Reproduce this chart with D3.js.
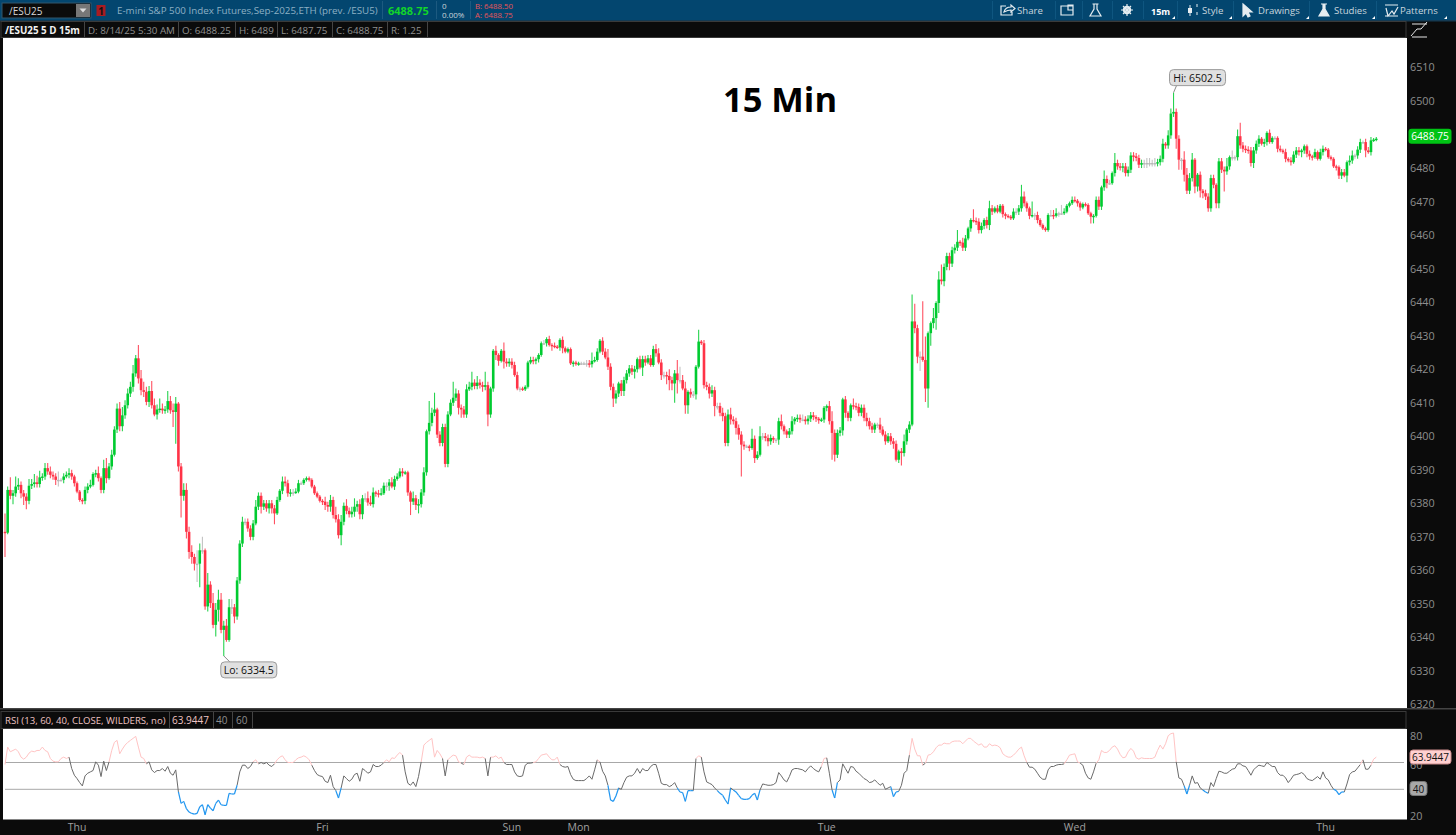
<!DOCTYPE html>
<html><head><meta charset="utf-8">
<script src="https://cdn.jsdelivr.net/npm/d3@7/dist/d3.min.js"></script>
<style>html,body{margin:0;padding:0;background:#0b0b0b;overflow:hidden}svg{display:block;font-family:"Open Sans",sans-serif}</style>
</head><body><svg id="c" width="1456" height="835"></svg>
<script>
const firstOpen = 6371.5;
const closes = [
6371.25,6384,6382.25,6383,6385,6385.5,6383,6382,6380.75,6385.25,
6385.75,6386.25,6385.75,6387.75,6388,6390.5,6389.5,6388.5,6388,6387,
6387,6387,6388,6388.5,6389,6388,6386,6383.5,6381,6380.75,
6384,6385,6385.5,6388.75,6389,6387.5,6384,6390.5,6387.5,6391,
6394.5,6402,6408.25,6403,6406.25,6409.25,6412.75,6414.75,6418.75,6423.25,
6417.25,6413.75,6413.25,6410.25,6413.5,6409.25,6406.5,6408,6408.25,6407.75,
6408,6410.5,6407.75,6407.25,6409.75,6391,6382.25,6384,6371.5,6365.5,
6364,6362,6362,6366,6366,6349.25,6355.75,6350.25,6343.75,6348.25,
6351.25,6342.25,6343.5,6339.25,6349,6349,6346.25,6357,6368,6374.5,
6374.5,6372.5,6370,6374,6379,6382.25,6379,6380,6378.5,6380,
6378.5,6377,6381,6383.75,6386.5,6386,6383,6383.25,6383.25,6383.5,
6386,6386,6387,6387.5,6387,6385,6383,6382,6380.75,6380.5,
6379.5,6379,6381,6376.5,6375.25,6370.5,6374.5,6379.25,6377.75,6376.75,
6377.5,6379,6379.75,6376.75,6381.5,6381.5,6380.25,6379.75,6383.25,6383,
6382.75,6383,6385.25,6385.25,6386.25,6385,6387.25,6388,6389.5,6389,
6389.25,6383.25,6380.5,6381.5,6379.5,6379.75,6383.25,6389.25,6401.5,6404,
6407,6408,6400.5,6398,6402.75,6391.75,6406.5,6410,6411.5,6412.75,
6408.5,6408,6406.5,6414,6414.75,6416,6415,6416,6415.25,6414.75,
6415.25,6406.5,6414.25,6425.5,6424.25,6422.5,6425.5,6422.25,6421.75,6422.25,
6421.25,6418.25,6414.25,6414.25,6414,6414.75,6422,6422.75,6422.5,6423,
6424.25,6427.75,6427.75,6429,6427.25,6427,6426.75,6426.5,6428.75,6426.25,
6425.25,6426,6421.75,6422,6421.5,6421.75,6421.75,6421.75,6421.75,6421.5,
6422.5,6422.75,6425.25,6428.5,6425.25,6423.5,6420.75,6414.75,6411.25,6412.75,
6415.75,6413.5,6416.75,6418.75,6420.25,6419.25,6420,6423,6420.5,6423,
6422,6423.25,6421.25,6426,6424.75,6422,6418.25,6418.25,6418,6416.75,
6415.75,6418.75,6416.75,6416.75,6414.25,6409.25,6413.25,6412.5,6412.5,6420.75,
6428.25,6427.75,6415.25,6414.75,6412.75,6413.75,6409,6409,6407,6406,
6398,6406.5,6405,6404.5,6402.5,6400.5,6397.5,6397,6397,6396.5,
6399.25,6393.5,6394.5,6400,6400,6399.5,6398.5,6399.5,6399,6399,
6404.5,6403,6401.5,6400.5,6401.5,6404.5,6405.25,6405.5,6405,6405,
6404.5,6405.25,6406.25,6405.75,6405.25,6404.75,6405,6408.5,6409,6404.5,
6401,6394.5,6401,6401.75,6411,6407,6405.5,6409.25,6409,6408.75,
6407,6408.5,6405.5,6404.5,6403,6402,6403.5,6403.5,6402,6400.5,
6398.5,6400,6398.5,6397.75,6393,6395.5,6395,6398.5,6402,6403.5,
6434.25,6432.25,6423.75,6423.75,6422.75,6414.25,6430.75,6433.75,6435.25,6439.75,
6446.75,6446.25,6450.5,6453.75,6451.5,6455.5,6456.25,6458,6457.75,6456.25,
6459,6462,6464.5,6464.25,6464,6461.5,6462.75,6464.5,6463,6468,
6467,6468,6467,6468.75,6466.25,6465.75,6465.5,6465,6467,6467,
6468,6471.5,6469.5,6468,6465.75,6466,6466,6464.5,6463,6462,
6461.5,6466,6466,6465.75,6466.5,6466.5,6466.5,6467,6468.75,6469.5,
6470.5,6470.25,6469.5,6468.25,6469.25,6469,6466.5,6465.5,6465.75,6470.5,
6468.5,6474.25,6476.75,6475.5,6475.5,6478.5,6481.5,6480.5,6480.25,6480.5,
6478.5,6479.5,6483.75,6483.5,6483,6481,6481.5,6481.5,6481.5,6481.5,
6481.5,6481.5,6481.75,6482.75,6487.25,6486.75,6489.75,6496.25,6496.75,6488.75,
6482.5,6482.5,6478,6473.25,6477,6482.5,6474.5,6478,6473.25,6472.5,
6471.5,6468,6477,6475,6469.5,6482,6479.5,6479,6480.5,6483.25,
6483.25,6483.25,6489.5,6486.75,6485.75,6485.5,6485.25,6481.5,6485.25,6487.25,
6488.75,6487.25,6487.75,6490.5,6487.75,6489,6489,6485.75,6485.25,6484.75,
6482.75,6482.25,6481.75,6484,6485.25,6484.75,6485.25,6486.5,6484.25,6483.5,
6483.25,6484.75,6482.75,6484.75,6485.75,6485.5,6483.25,6482.75,6480.5,6480.25,
6477.75,6478.75,6477.75,6481.75,6482.25,6483.75,6483.75,6485.5,6487.75,6487.75,
6485.25,6484.75,6488.25,6488.5,6488.75];
const wickUp = [
5.5,1,3.75,1,3,2,1,1,1,2, 1.5,2.5,2,2,1,1.5,1.5,1.5,1,1, 2.5,.5,1,1,1.5,1,.5,.5,.5,.5, 1,1,1.5,.5,1,2,.5,2.5,3,1,
1.5,1,1.5,2,2.5,1.5,1.5,1.5,2.5,1, 4,2.5,2.5,1.5,1.5,3,2,1.5,3,1.5, 1,3,1.5,2,2,.5,1,2,2,1.5, 2,1,4,2,4,.5,3.5,1,3,2,
3,2,1.5,2,2.5,2.5,1,1,1,1.5, 1,1,1,1,2,1,1,1,1,1, 1,1,1,.5,1.5,1.5,1,1,1,1, 1,.5,.5,.5,.5,.5,.5,.5,.5,.5,
1.5,1,1.5,1,2.5,1.5,2,1,2,1, 1.5,2.5,1,1.5,1,1.5,2,2,1.5,.5, 1,1.5,1,1,1,1.5,1,1,1,1, .5,.5,.5,2,1,1.5,1,1.5,.5,6.5,
1.5,5,.5,1,1,1,1,1,4.75,1.5, 1,1,1,1.5,1.5,3.25,1,2,1,1, 4,1,.5,.5,1.5,.5,.5,2.5,1,1, 1,1,1,.5,.5,.5,.5,1,1,.5,
.5,.5,1,.5,1,.5,1,.5,.5,1, .5,.5,.5,.5,.5,.5,.5,.5,1,1, 2.5,1,1,.5,1,1,2.5,1,1,1, .5,1,1,1,1,1,1,.5,1,1,
1,1,1,1,1.5,1.5,1,1,1,2, 1,1,4,4,1.5,2,.5,1,1,.5, 3.5,.5,1,1,1,1.5,1,1,1,1.5, 1,1.5,2,1,1,1,1,1,.5,.5,
3,1,1,3,1,1,1,1,.5,.5, 1,2,.5,.5,1,1.5,.5,1,1,1.5, 1,1,1,1,.5,.5,.5,.5,.5,1.5, 3,1,1,1,.5,1,.5,.5,2,1,
1,1,1,1.5,1,1,.5,.5,2,1, 1,1,1,1,1,.5,1,2,.5,1, 8,5.25,1,1.5,16.5,7,.5,.5,3,.5, 2.5,4.5,1,1,1,1,1,3.5,.5,1.5,
1,.5,.5,3.25,1,1,1,.5,1,2.25, 1,.5,1,.5,.5,.5,.5,.5,1,1, 1,3.5,1.5,.5,.5,4,.5,1,.5,.5, .5,.5,1.5,1.5,1.5,.5,2.5,1,.5,.5,
1,1,.5,.5,.5,.5,.5,.5,.5,1, 1,.5,2.5,1,1,.5,3,1,1,1, 1,1,1,1,1,1,1,1,1.5,1.5, 1,1.5,1,1,1.5,.5,1.5,1.5,5.75,1,
1,.5,2.5,2,1.5,2,.5,.5,1,.5, 1,1,1,1,.5,1,1,1,2.5,.5, 2,.5,2,4,1,1,1,1,1,1, 1,.5,1,.5,1,.5,.5,.5,1,.5,
1,.5,1,1,1,1,.5,.5,.5,1, .5,1,.5,1,1,.5,.5,.5,.5,.5, .5,1,1,.5,1.5,1.5,.5,1,1,.5, 1,1,1,.5,.5];
const wickDown = [
7.25,.5,1,2.5,1,1,1.5,2.5,2.5,1, 1,1,1,1,1,1,1,1,1,1.5, 2,.5,1,.5,1,1,1,.5,.5,1, 1,1,.5,.5,1,1,1,1,1.5,.5,
1,.5,1,1.5,1.5,1,1,1,1.5,1, 1.5,1.5,1.5,1,1.5,1,.5,1.5,1,1, 1,1,1,4.5,9.5,1.5,6.5,1.5,2,2, 2,2,5.5,7,1,1,1.5,1.5,1,3.5,
3.5,1,7.75,.5,.5,2,2,1,1,1, 1,1,1,1,.5,1,2,1,1,1.5, 1.5,3.25,.5,.5,1,1,1,1,1,.5, .5,.5,.5,.5,.5,.5,.5,.5,.5,1,
1.5,1.5,1.5,1,1,1,3,1,1,1, 1,1.5,1.5,1.5,1.5,1,1,.5,1,1, 1,.5,.5,1.5,1.5,.5,1,.5,.5,1, .5,1,4,1,1.5,2.5,1,1,1,1,
1,1,1,1,1,1,1,.5,1,1, 2,2.5,1,1,.5,1,1,1,1,1.5, 1,3.5,1,1,1.5,1.5,.5,2,1,1, 1,.5,.5,1,.5,.5,.5,.5,1,1,
1,.5,.5,1,.5,1.5,.5,.5,1,1.5, .5,.5,.5,1,.5,.5,.5,.5,1,1, 1,.5,.5,.5,1,.5,1,1,2.5,1.5, 1,1.5,1.5,1,1,1,2,1,.5,2.5,
1,.5,.5,.5,1,.5,1.5,1,2.5,3, 2,5.75,4,1,.5,2.5,2.5,1,1,1.5, .5,.5,1,1,1.5,1,3,1,1,1.5, 1,1,1.5,1,2,1.5,9.5,1,.5,1,
.5,1.5,.5,.5,1,1,1.5,1,1,1, 1.5,1,1,1,1,1,1,1,1,.5, 1,1,1,1,1,1,.5,1,1,1, 8,2,1,1,1.5,1.5,1,1,1,1,
1,1,1,1.5,1,1,1,1,1,.5, 1,.5,1,1.5,.5,1,3.75,1,1,1, .5,1.5,2,4.25,.5,4,5.75,3.75,1.5,3.5, 3,1,1.5,1,2,1,1,1,1,1,
1,.5,1,.5,1,1,1,1,1,1.5, 1,.5,.5,.5,1,1,.5,.5,.5,1, 1,1,1,1,1,.5,1.5,1,.5,.5, .5,.5,.5,1,.5,1,.5,.5,.5,.5,
.5,.5,1,1,.5,.5,.5,2,2,.5, 1,1,1,1.5,.5,.5,1,1,1,1.5, 1,1,1,1.5,1,1,1,1.5,1.5,1, 1,1,1,1,1,1,1,1,1,3,
3,3,2,1,1,1,2,1.5,2,1.5, 1,1,1,1,1.5,1.5,1,6,1,1, 1,1,1,1,1,1,1,1,1.5,1, 1,.5,1,1,.5,.5,.5,1,.5,.5,
1,.5,1,.5,1,1,1.5,1,1,1, 1,.5,.5,.5,1,.5,.5,.5,.5,1, 1,1,.5,2,1,1,1,1,1,.5, 2,.5,1,.5,.5];
const rsi = [
58.5,71.5,68,69,70,68,64,62.5,64,67,68.5,68,69,69,71.5,69,68,63,61,60.5,
60.5,63,64,63,64,55.5,50.5,48,45,42.5,50,52,53,54,60.5,58,49.5,61,54,60.5,
69,75,76.5,66.5,70,73,75,76.5,78,79.5,71.5,64,63,59,60.5,54.5,52.5,54,54,55.5,
53.5,57,52,50.5,54.5,38,29.5,31,25.5,23,22,21.5,22,27,28.5,21,28.5,26,24,29.5,
32,28.5,28,28,37,36.5,36.5,43,53,58,58,55.5,57,60.5,62,59,60,59,60,58,
57,59,62,64,65,62,60,60,60,62,63.5,64,65,64,62,58,54,51,50,49.5,
46,45,50.5,42,39,33.5,41,50,48,46,47.5,51,52,46,55.5,54,52,53,58.5,57,
57,58,60,62,60.5,63.5,63,65.5,67.5,65.5,53,44.5,43,45.5,42,49.5,60.5,73,75,76.5,
78,64,69,66.5,63,50,62,64,65.5,65,60.5,59.5,58.5,64,65.5,64,64,64,63.5,64,
63,50,64,64,65,63,
64,60,58.5,58.5,58.5,53,50,49.5,50,58,59.5,59.5,60,60.5,63,65.5,66,66.5,64,62,
62,64,58.5,57,56.5,57,51,47.5,46.5,46.5,46.5,46.5,48,50,47.5,54.5,62,60.5,53.5,50,
43,32,31,35,41,40,45,49,50,50,52,55.5,52,55.5,54,54,57,58.5,58.5,52,
44.5,43.5,43.5,42,43,45,41,38,37.5,31,39,39,39,63,65,64,53,45.5,44.5,43.5,
41,39,37,35.5,32,29,41,39.5,38,35.5,33,32.5,32.5,33,35.5,37,32,39.5,44,43.5,
43,43,43.5,45,52.5,50,47,45.5,49.5,54.5,55.5,55.5,55,54.5,53,55.5,57.5,55.5,54,53,
57,63,63.5,52,39.5,33.5,45,47,59,55.5,52,57,56.5,53.5,52,50,48,47,45,45.5,
47,45,43,44.5,40,41,42,34.5,38,38.5,
43,52,54,65.5,78,70,65,65,58,59.5,65.5,66,68,71,73,73,74.5,74,74,75.5,
76,76,76,74,76,78,78,76,74.5,73,74,71.5,71.5,74,72.5,73,72.5,71,66.5,65,
64,64,65.5,67.5,70,71.5,65,60,56.5,56.5,55,52,49,47.5,47.5,54.5,57,57,58,58.5,
58.5,59,62,65.5,66,66.5,60.5,59.5,58,52,48.5,47.5,53,59.5,62,69,67.5,67.5,69,71.5,
72.5,70,66,63.5,64,68,70.5,68.5,63.5,62.5,63.5,63,63,63,63,64,69,73,70,74,
80,81.5,82,60.5,48.5,47.5,42.5,36.5,43,50,44.5,45,41,39.5,38,37,45,42,48,53.5,
53,52,52,53.5,55,55.5,59,59,57.5,57,54,50.5,54.5,56.5,58,57.5,57,60,58.5,57,
57,52.5,50.5,50.5,48.5,45,47.5,50.5,51,51.5,52.5,51,48,47,46.5,48,49.5,47.5,53,48.5,
47,43,40,39,36,38,38,44,51,53,53.5,56,58.5,62,55,55,58,62.5,64];
const priceTicks = [6510,6500,6480,6470,6460,6450,6440,6430,6420,6410,6400,6390,6380,6370,6360,6350,6340,6330,6320];
const rsiTicks = [80,60,20];
const rsiLevels = [60,40];
const dayLabels = ["Thu","Fri","Sun","Mon","Tue","Wed","Thu"];
const dayIndex = [27,119,190,215,308,401,495];
const hiLabel = "Hi: 6502.5", loLabel = "Lo: 6334.5";

const svg = d3.select("#c");
const n = closes.length;
const rect=(g,x,y,w,h,f,s)=>g.append("rect").attr("x",x).attr("y",y).attr("width",w).attr("height",h).attr("fill",f).attr("stroke",s||"none");
const txt=(g,x,y,t,f,sz,o={})=>g.append("text").attr("x",x).attr("y",y).attr("fill",f).attr("font-size",sz).attr("font-weight",o.w||400).attr("text-anchor",o.a||"start").text(t);
rect(svg,0,0,1456,835,"#0b0b0b");

// toolbar
const bar=svg.append("g");
rect(bar,0,0,1456,20,"#03466f");
rect(bar,0,20,1456,1.5,"#153a52");
rect(bar,2,3,89,15,"#0b0b0b","#33566c");
txt(bar,9,14.5,"/ESU25","#d8d8d8",10);
rect(bar,76,4,14,13,"#777");
bar.append("path").attr("d","M79.5 8.5h7l-3.5 4z").attr("fill","#ddd");
rect(bar,96.5,5,9,11,"#a81c22");
txt(bar,101,14.5,"1","#111",10,{a:"middle",w:700});
txt(bar,117,14,"E-mini S&P 500 Index Futures,Sep-2025,ETH (prev. /ESU5)","#8db0c4",9.8);
[382,436,470].forEach(x=>rect(bar,x,1,1,18,"#1d5a80"));
txt(bar,388,15,"6488.75","#12d42a",11,{w:700});
txt(bar,442,8.5,"0","#c9d4da",8);
txt(bar,442,17.5,"0.00%","#c9d4da",8);
txt(bar,475,9,"B: 6488.50","#e8555a",7.8);
txt(bar,475,17.5,"A: 6488.75","#e8555a",7.8);
[["Share",1017],["Style",1202],["Drawings",1258],["Studies",1334],["Patterns",1400]].forEach(d=>txt(bar,d[1],14,d[0],"#c9d6de",9.6));
txt(bar,1151,14.5,"15m","#fff",9,{w:700});
[992,1055,1082,1112,1143,1177,1233,1309,1376].forEach(x=>rect(bar,x,1,1,18,"#0f5680"));
const ic=bar.append("g").attr("fill","none").attr("stroke","#e6edf1").attr("stroke-width",1.2);
ic.append("path").attr("d","M1006 6h-5v9h11v-3M1004 12c1-4 4-5 7-5v-2l4 3.500-4 3.500v-2c-3 0-5 1-7 2z");
ic.append("path").attr("d","M1061 6h12v9h-12zM1068 5h5v5h-5z");
ic.append("path").attr("d","M1094 4v5l-4 7h11l-4-7v-5M1092.500 4h6");
ic.append("circle").attr("cx",1127).attr("cy",10).attr("r",3.2).attr("stroke-width",2);
ic.append("path").attr("d","M1127 4v12M1121 10h12M1123 6l8 8M1131 6l-8 8");
ic.append("path").attr("d","M1190 5v11M1197 4v11").attr("stroke-width",1);
rect(ic,1188,8,4,5,"#e6edf1");rect(ic,1195,7,4,5,"#03466f");
ic.append("path").attr("d","M1243 4l9 8h-4l2 4-2 1-2-4-3 3z").attr("fill","#e6edf1");
ic.append("path").attr("d","M1323 4v5l-4 7h10l-4-7v-5M1321 4h6").attr("fill","#e6edf1");
ic.append("path").attr("d","M1385 5h13M1386 8l2 8 4-5 2 3 4-7M1385 16h13");
[1172,1229,1306,1372,1444].forEach(x=>bar.append("path").attr("d",`M${x+3} 16v3h-3z`).attr("fill","#fff"));

// header rows
function row(y,h,r){const g=svg.append("g");rect(g,1,y,r-1,h,"#0b0b0b","#3a3a3a");return g;}
const hdr=row(21.5,16,1406);
txt(hdr,5,33.5,"/ESU25 5 D 15m","#f2f2f2",9.8,{w:700});
[["D: 8/14/25 5:30 AM",88],["O: 6488.25",182],["H: 6489",239],["L: 6487.75",281],["C: 6488.75",336],["R: 1.25",391]].forEach(d=>txt(hdr,d[1],33.5,d[0],"#8f8f8f",9.8));
[84,178,235,277,332,387,427].forEach(x=>rect(hdr,x,22,1,15,"#444"));
const ic2=svg.append("g").attr("fill","none").attr("stroke","#e8e8e8").attr("stroke-width",1);
ic2.append("path").attr("d","M1412 24h15M1411 36l6-7h4l6-7M1412 37h15");

// main panel
const px0=3,px1=1407,py0=38,py1=708;
rect(svg,px0,py0,px1-px0,py1-py0,"#fff");
rect(svg,0,708,1456,1.5,"#444");
const x=d3.scaleLinear().domain([0,n-1]).range([5,1376.3]);
const y=d3.scaleLinear().domain([6500,6320]).range([101,704.5]);

const opens=closes.map((c,i)=>i?closes[i-1]:firstOpen);
const highs=closes.map((c,i)=>Math.max(c,opens[i])+(wickUp[i]??1));
const lows=closes.map((c,i)=>Math.min(c,opens[i])-(wickDown[i]??1));
const UP="#00cb30",DN="#ff3347",FL="#b8b8b8";
const col=i=>closes[i]>opens[i]?UP:closes[i]<opens[i]?DN:FL;
const cg=svg.append("g").attr("class","candles");
cg.selectAll("line").data(closes).join("line")
 .attr("x1",(d,i)=>x(i)).attr("x2",(d,i)=>x(i))
 .attr("y1",(d,i)=>y(highs[i])).attr("y2",(d,i)=>y(lows[i]))
 .attr("stroke",(d,i)=>col(i)).attr("stroke-width",1.1).attr("stroke-opacity",.85);
cg.selectAll("rect").data(closes).join("rect")
 .attr("x",(d,i)=>x(i)-1.3).attr("width",2.6)
 .attr("y",(d,i)=>y(Math.max(d,opens[i])))
 .attr("height",(d,i)=>Math.max(1.4,Math.abs(y(d)-y(opens[i]))))
 .attr("fill",(d,i)=>col(i));

// Hi / Lo callouts
const hi=d3.maxIndex(highs),lo=d3.minIndex(lows);
function callout(i,price,label,dx,dy,px){
 const g=svg.append("g");const X=x(i),Y=y(price);
 g.append("path").attr("d",`M${X} ${Y}L${X+px} ${Y+dy}`).attr("stroke","#8a8a8a").attr("fill","none");
 const bx=X+dx,by=dy<0?Y+dy-16:Y+dy;
 rect(g,bx,by,56,16,"#e0e0e0","#9a9a9a").attr("rx",4);
 txt(g,bx+28,by+12,label,"#111",10.5,{a:"middle"});
}
callout(hi,highs[hi],hiLabel,-4,-7,3);
callout(lo,lows[lo],loLabel,-3,6,6);
txt(svg,780,112,"15 Min","#000",34.5,{a:"middle",w:700});

// price axis
const pa=svg.append("g").attr("transform","translate(1407,0)").call(d3.axisRight(y).tickValues(priceTicks).tickSize(0).tickPadding(3).tickFormat(d3.format("d")));
pa.select(".domain").remove();
pa.selectAll("text").attr("fill","#8e8e8e").attr("font-size",10.8).attr("font-family","Open Sans");
const lastY=y(closes[n-1])-2.5;
rect(svg,1408.5,lastY-7.5,43,15,"#00c414").attr("rx",3);
txt(svg,1430,lastY+3.7,"6488.75","#fff",10.2,{a:"middle"});

// RSI
const rh=row(711.5,17,1406);
txt(rh,5,724,"RSI (13, 60, 40, CLOSE, WILDERS, no)","#efc4c4",9.6);
txt(rh,172,724,"63.9447","#efc4c4",10);
txt(rh,216,724,"40","#8f8f8f",10);
txt(rh,236,724,"60","#8f8f8f",10);
[169,213,232,252].forEach(x0=>rect(rh,x0,712,1,16,"#444"));
rect(svg,3,729,1404,90.5,"#fff");
const ry=d3.scaleLinear().domain([60,40]).range([762.5,789.3]);
const rx=d3.scaleLinear().domain([0,rsi.length-1]).range([5,1376.3]);
svg.selectAll(".lvl").data(rsiLevels).join("line").attr("class","lvl").attr("x1",5).attr("x2",1404)
 .attr("y1",d=>ry(d)).attr("y2",d=>ry(d)).attr("stroke","#a8a8a8");
const band=v=>v>=60?"#ffc4c4":v<40?"#2196f0":"#6a6a6a";
const line=d3.line().x(d=>rx(d)).y(d=>ry(rsi[d]));
const segs=d3.range(rsi.length-1);
svg.append("g").attr("fill","none").selectAll("path").data(segs).join("path")
 .attr("d",i=>line([i,i+1])).attr("stroke",i=>band((rsi[i]+rsi[i+1])/2)).attr("stroke-width",i=>band((rsi[i]+rsi[i+1])/2)=="#2196f0"?1.2:1);
const ra=svg.append("g").attr("transform","translate(1407,0)").call(d3.axisRight(ry).tickValues(rsiTicks).tickSize(0).tickPadding(3));
ra.select(".domain").remove();
ra.selectAll("text").attr("fill","#8e8e8e").attr("font-size",10.8).attr("font-family","Open Sans");
ra.selectAll("g.tick").filter(d=>d===60).attr("transform","translate(0,766)");
rect(svg,1410,750,41,14,"#ffd0d0","#c98a8a").attr("rx",3);
txt(svg,1430.5,761,"63.9447","#111",10,{a:"middle"});
rect(svg,1410,781.5,17,14,"#a8a8a8","#777").attr("rx",3);
txt(svg,1418.5,792.5,"40","#111",10,{a:"middle"});

// day labels
svg.append("g").selectAll("text").data(dayLabels).join("text")
 .attr("x",(d,i)=>x(dayIndex[i])).attr("y",831).attr("text-anchor","middle")
 .attr("fill","#a0a0a0").attr("font-size",10.5).text(d=>d);
</script></body></html>
